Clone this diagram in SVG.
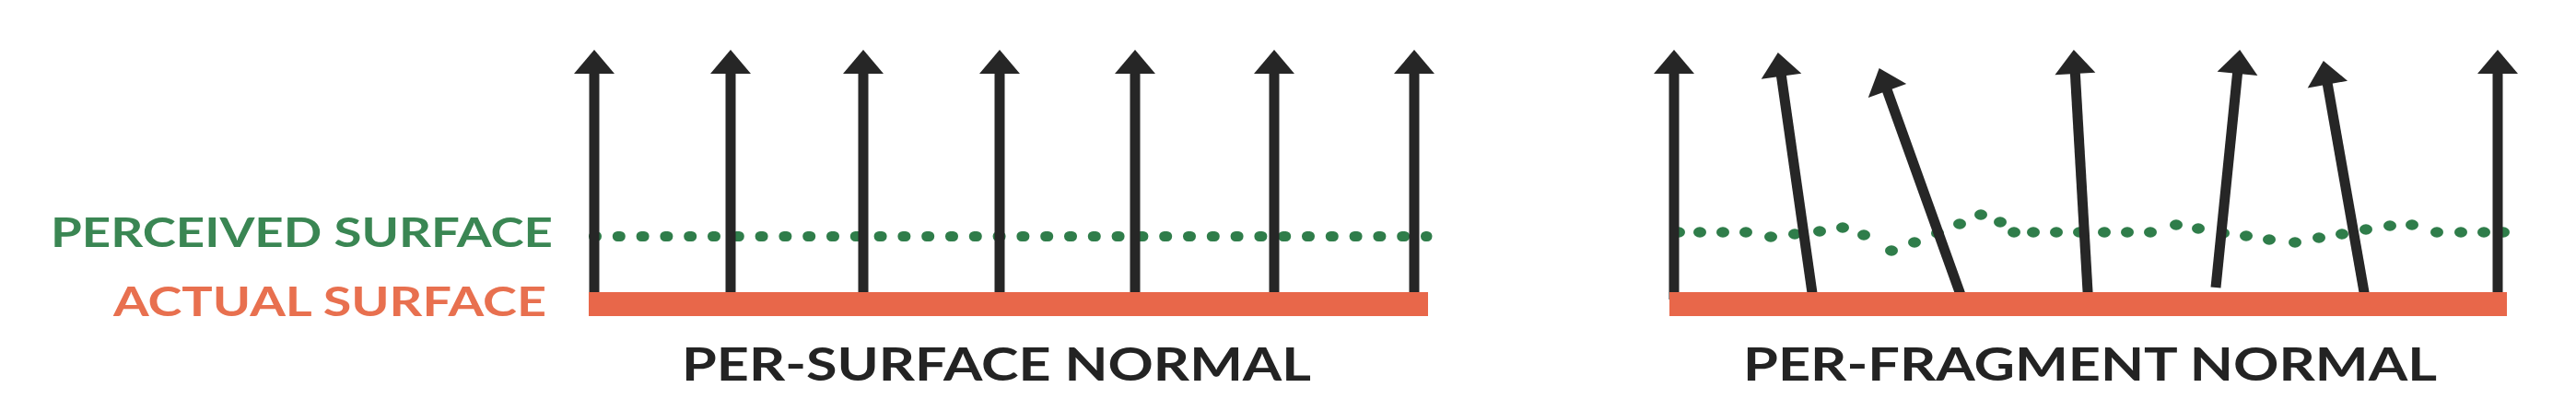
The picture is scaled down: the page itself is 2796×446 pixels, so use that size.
<svg xmlns="http://www.w3.org/2000/svg" width="2796" height="446" viewBox="0 0 2796 446">
  <style>
    .shaft { stroke: #262626; stroke-width: 11; fill: none; marker-end: url(#head); }
    .bar { fill: #E8674A; }
    .dots { stroke: #2F7D4A; stroke-width: 11; stroke-linecap: round; stroke-dasharray: 3 22.8; fill: none; }
    .wave { fill: none; stroke: none; marker-start: url(#dot); marker-mid: url(#dot); marker-end: url(#dot); }
    .lbl { font-family: Lato, "Open Sans", "Liberation Sans", sans-serif; font-weight: 700; }
    .green { fill: #3A8653; font-size: 44px; }
    .orange { fill: #E8704F; font-size: 44px; }
    .title { fill: #232323; font-size: 49px; }
  </style>
  <defs>
    <marker id="head" markerUnits="userSpaceOnUse" markerWidth="50" markerHeight="50" refX="5" refY="22" orient="auto" overflow="visible">
      <path d="M0,0 L26,22 L0,44 z" fill="#262626"/>
    </marker>
    <marker id="dot" markerUnits="userSpaceOnUse" markerWidth="16" markerHeight="14" refX="8" refY="7" overflow="visible">
      <ellipse cx="8" cy="7" rx="7" ry="5.8" fill="#2F7D4A"/>
    </marker>
  </defs>

  <g id="labels">
    <text id="perceived-label" class="lbl green" x="55" y="268" textLength="545" lengthAdjust="spacingAndGlyphs">PERCEIVED SURFACE</text>
    <text id="actual-label" class="lbl orange" x="123" y="343" textLength="470" lengthAdjust="spacingAndGlyphs">ACTUAL SURFACE</text>
  </g>

  <g id="per-surface">
    <line id="perceived-flat" class="dots" x1="644.5" y1="256.5" x2="1549" y2="256.5"/>
    <g id="normals-left">
      <line class="shaft" x1="645" y1="325" x2="645" y2="75"/>
      <line class="shaft" x1="793" y1="325" x2="793" y2="75"/>
      <line class="shaft" x1="937" y1="325" x2="937" y2="75"/>
      <line class="shaft" x1="1085" y1="325" x2="1085" y2="75"/>
      <line class="shaft" x1="1232" y1="325" x2="1232" y2="75"/>
      <line class="shaft" x1="1383" y1="325" x2="1383" y2="75"/>
      <line class="shaft" x1="1535" y1="325" x2="1535" y2="75"/>
    </g>
    <rect id="actual-left" class="bar" x="639" y="317" width="911" height="26"/>
    <text id="title-left" class="lbl title" x="740" y="413" textLength="683" lengthAdjust="spacingAndGlyphs">PER-SURFACE NORMAL</text>
  </g>

  <g id="per-fragment">
    <path id="perceived-wavy" class="wave" d="M1822,252 L1845,252 L1870,252 L1895,252 L1922,257 L1948,254 L1975,251 L2000,247 L2023,255 L2053,272 L2078,263 L2103,253 L2127,243 L2150,233 L2171,241 L2186,252 L2207,252 L2232,252 L2257,252 L2284,252 L2309,252 L2334,252 L2362,244 L2386,248 L2413,253 L2438,256 L2463,260 L2491,263 L2517,258 L2542,254 L2568,249 L2594,245 L2618,244 L2645,252 L2671,252 L2696,252 L2717,252"/>
    <g id="normals-right">
      <line class="shaft" x1="1817" y1="325" x2="1817" y2="75"/>
      <line class="shaft" x1="1968" y1="325" x2="1932.8" y2="77.8"/>
      <line class="shaft" x1="2129.7" y1="324.5" x2="2046.8" y2="93.8"/>
      <line class="shaft" x1="2266.5" y1="325" x2="2252.1" y2="75"/>
      <line class="shaft" x1="2405" y1="312" x2="2429" y2="74.9"/>
      <line class="shaft" x1="2567.4" y1="324.9" x2="2525.5" y2="86.7"/>
      <line class="shaft" x1="2711" y1="325" x2="2711" y2="75"/>
    </g>
    <rect id="actual-right" class="bar" x="1812" y="317" width="909" height="26"/>
    <text id="title-right" class="lbl title" x="1892" y="413" textLength="753" lengthAdjust="spacingAndGlyphs">PER-FRAGMENT NORMAL</text>
  </g>
</svg>
